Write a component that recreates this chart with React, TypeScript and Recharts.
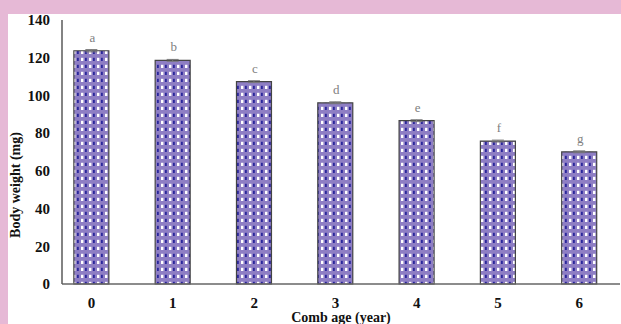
import React from 'react';
import { BarChart, Bar, XAxis, YAxis, ErrorBar, LabelList } from 'recharts';

const categories = [0, 1, 2, 3, 4, 5, 6];
const bodyWeight = [123.7, 118.6, 107.3, 96.1, 86.6, 75.8, 70.1];
const errors = [0.6, 0.5, 0.5, 0.5, 0.5, 0.5, 0.5];
const letters = ['a', 'b', 'c', 'd', 'e', 'f', 'g'];
const yTicks = [0, 20, 40, 60, 80, 100, 120, 140];

const data = categories.map((c, i) => ({
  age: c,
  weight: bodyWeight[i],
  err: errors[i],
  letter: letters[i],
}));

const serif = '"Liberation Serif", "DejaVu Serif", serif';

const LetterLabel = (props: any) => {
  const { x, y, width, value } = props;
  return (
    <text x={x + width / 2 + 1} y={y - 9} textAnchor="middle" fontFamily={serif} fontSize={13} fill="#808080">
      {value}
    </text>
  );
};

export default function App() {
  return (
    <div style={{ position: 'absolute', left: 0, top: 0, width: 621, height: 324, background: '#e6b9d6', overflow: 'hidden' }}>
      <div style={{ position: 'absolute', left: 8, top: 14, width: 613, height: 310, background: '#ffffff' }} />
      <div style={{ position: 'absolute', left: 0, top: 0 }}>
        <BarChart width={621} height={324} data={data} margin={{ top: 20, right: 1, bottom: 0, left: 0 }}>
          <defs>
            <pattern id="grid" width="8" height="7" patternUnits="userSpaceOnUse">
              <rect x="0" y="0" width="8" height="7" fill="#8e7ec4" />
              <rect x="1" y="1.8" width="2.4" height="3.2" fill="#ffffff" />
              <rect x="5" y="1.8" width="1.8" height="3.2" fill="#2a279c" />
            </pattern>
          </defs>
          <XAxis
            dataKey="age"
            type="number"
            height={40}
            domain={[-0.363, 6.5]}
            ticks={categories}
            allowDataOverflow
            tickLine={false}
            tickSize={0}
            tickMargin={13}
            axisLine={{ stroke: '#666666', strokeWidth: 1.5 }}
            tick={{ fontFamily: serif, fontSize: 15, fontWeight: 'bold', fill: '#111111' }}
            label={{
              content: (p: any) => {
                const vb = p.viewBox;
                return (
                  <text x={vb.x + vb.width / 2} y={vb.y + 38} textAnchor="middle" fontFamily={serif} fontSize={14} fontWeight="bold" fill="#111111">
                    Comb age (year)
                  </text>
                );
              },
            }}
          />
          <YAxis
            width={62}
            domain={[0, 140]}
            ticks={yTicks}
            tickLine={false}
            tickSize={0}
            tickMargin={12}
            axisLine={{ stroke: '#5a5a5a', strokeWidth: 1.5 }}
            tick={{ fontFamily: serif, fontSize: 15, fontWeight: 'bold', fill: '#111111' }}
            label={{
              content: (p: any) => {
                const vb = p.viewBox;
                const cx = vb.x + 15;
                const cy = vb.y + vb.height / 2 + 33;
                return (
                  <text x={cx} y={cy} transform={`rotate(-90 ${cx} ${cy})`} textAnchor="middle" dominantBaseline="central" fontFamily={serif} fontSize={14} fontWeight="bold" fill="#111111">
                    Body weight (mg)
                  </text>
                );
              },
            }}
          />
          <Bar dataKey="weight" barSize={35} fill="url(#grid)" stroke="#444444" strokeWidth={1.2} isAnimationActive={false}>
            <ErrorBar dataKey="err" width={6} stroke="#777777" strokeWidth={1} direction="y" />
            <LabelList dataKey="letter" content={LetterLabel} />
          </Bar>
        </BarChart>
      </div>
    </div>
  );
}
